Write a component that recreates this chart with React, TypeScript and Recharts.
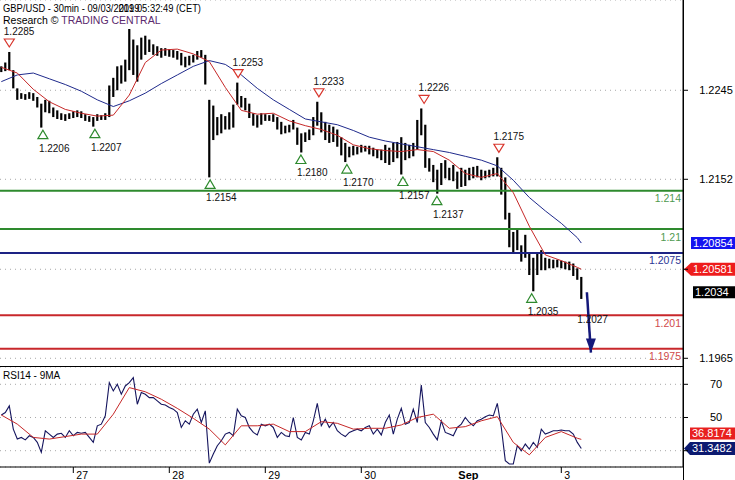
import React from 'react'
import {
  ComposedChart, Bar, Line, Scatter, XAxis, YAxis, CartesianGrid, ReferenceLine,
} from 'recharts'

// hourly slots, each one = two 30min candles (high / low)
const HOUR_HIGH = [
  1.2270, 1.2274, 1.2285, 1.2266, 1.2247, 1.2242, 1.2241, 1.2243, 1.2242, 1.2238,
  1.2231, 1.2235, 1.2234, 1.2227, 1.2224, 1.2221, 1.2220, 1.2221, 1.2223, 1.2224,
  1.2223, 1.2220, 1.2218, 1.2217, 1.2220, 1.2219, 1.2221, 1.2250, 1.2258, 1.2270,
  1.2271, 1.2277, 1.2309, 1.2298, 1.2292, 1.2300, 1.2302, 1.2298, 1.2293, 1.2291,
  1.2289, 1.2289, 1.2288, 1.2287, 1.2286, 1.2284, 1.2280, 1.2281, 1.2282, 1.2286,
  1.2287, 1.2282, 1.2235, 1.2229, 1.2217, 1.2220, 1.2218, 1.2222, 1.2230, 1.2253,
  1.2239, 1.2237, 1.2231, 1.2221, 1.2219, 1.2221, 1.2220, 1.2219, 1.2220, 1.2217,
  1.2212, 1.2208, 1.2209, 1.2214, 1.2206, 1.2200, 1.2201, 1.2204, 1.2217, 1.2233,
  1.2222, 1.2212, 1.2209, 1.2207, 1.2204, 1.2196, 1.2190, 1.2186, 1.2187, 1.2186,
  1.2188, 1.2187, 1.2187, 1.2185, 1.2183, 1.2183, 1.2188, 1.2185, 1.2190, 1.2191,
  1.2196, 1.2190, 1.2188, 1.2190, 1.2214, 1.2226, 1.2209, 1.2174, 1.2167, 1.2162,
  1.2169, 1.2172, 1.2164, 1.2167, 1.2160, 1.2164, 1.2162, 1.2164, 1.2165, 1.2166,
  1.2162, 1.2161, 1.2162, 1.2164, 1.2175, 1.2164, 1.2154, 1.2117, 1.2097, 1.2099,
  1.2083, 1.2094, 1.2076, 1.2070, 1.2076, 1.2078, 1.2070, 1.2069, 1.2068, 1.2068,
  1.2067, 1.2066, 1.2066, 1.2064, 1.2059, 1.2050,
]
const HOUR_LOW = [
  1.2264, 1.2265, 1.2266, 1.2247, 1.2235, 1.2236, 1.2235, 1.2236, 1.2234, 1.2227,
  1.2206, 1.2222, 1.2221, 1.2217, 1.2215, 1.2214, 1.2213, 1.2215, 1.2216, 1.2217,
  1.2216, 1.2213, 1.2212, 1.2207, 1.2213, 1.2214, 1.2214, 1.2217, 1.2238, 1.2245,
  1.2252, 1.2254, 1.2266, 1.2261, 1.2254, 1.2277, 1.2282, 1.2285, 1.2282, 1.2281,
  1.2279, 1.2281, 1.2280, 1.2279, 1.2277, 1.2271, 1.2269, 1.2271, 1.2274, 1.2277,
  1.2279, 1.2251, 1.2154, 1.2193, 1.2198, 1.2200, 1.2204, 1.2204, 1.2206, 1.2230,
  1.2227, 1.2224, 1.2216, 1.2208, 1.2206, 1.2209, 1.2213, 1.2213, 1.2212, 1.2204,
  1.2199, 1.2200, 1.2201, 1.2204, 1.2188, 1.2180, 1.2191, 1.2193, 1.2198, 1.2208,
  1.2201, 1.2193, 1.2190, 1.2191, 1.2186, 1.2177, 1.2170, 1.2175, 1.2177, 1.2178,
  1.2180, 1.2181, 1.2178, 1.2176, 1.2174, 1.2172, 1.2169, 1.2167, 1.2170, 1.2174,
  1.2157, 1.2172, 1.2174, 1.2176, 1.2183, 1.2198, 1.2164, 1.2160, 1.2149, 1.2137,
  1.2146, 1.2153, 1.2151, 1.2150, 1.2142, 1.2144, 1.2145, 1.2151, 1.2153, 1.2154,
  1.2151, 1.2153, 1.2154, 1.2155, 1.2155, 1.2136, 1.2110, 1.2081, 1.2076, 1.2078,
  1.2066, 1.2070, 1.2052, 1.2035, 1.2052, 1.2057, 1.2057, 1.2059, 1.2059, 1.2060,
  1.2059, 1.2058, 1.2057, 1.2051, 1.2047, 1.2027,
]
const LAST_CLOSE = 1.2034

// moving averages, read every 4 slots
const MA_STEP = 4
const RED_MA = [
  1.2269, 1.2263, 1.2246, 1.2233, 1.2225, 1.2221, 1.2218, 1.2219, 1.2240, 1.2274,
  1.2287, 1.2288, 1.2283, 1.2275, 1.2248, 1.2224, 1.2220, 1.2221, 1.2213, 1.2208,
  1.2204, 1.2198, 1.2188, 1.2184, 1.2182, 1.2181, 1.2183, 1.2181, 1.2172, 1.2158,
  1.2154, 1.2158, 1.2138, 1.2103, 1.2073, 1.2067, 1.2060,
]
const BLUE_MA = [
  1.2254, 1.2261, 1.2263, 1.2257, 1.2251, 1.2244, 1.2235, 1.2228, 1.2234, 1.2242,
  1.2252, 1.2261, 1.2270, 1.2276, 1.2272, 1.2261, 1.2247, 1.2235, 1.2225, 1.2215,
  1.2212, 1.2209, 1.2203, 1.2196, 1.2192, 1.2189, 1.2186, 1.2183, 1.2180, 1.2176,
  1.2172, 1.2166, 1.2151, 1.2133, 1.2119, 1.2106, 1.2091,
]
const RED_MA_LAST = 1.20581
const BLUE_MA_LAST = 1.20854

// RSI14 per slot and its 9MA every 4 slots
const RSI14 = [
  51.5, 53, 57, 43, 37, 38, 36.5, 39, 38, 35,
  29, 42, 40, 38, 40, 40.5, 38, 42, 39, 41,
  40.5, 41, 38, 35, 45, 46, 51, 71, 66, 70,
  64, 69, 71, 74, 58, 65, 64, 62, 62, 60,
  58, 57.5, 56, 55, 53, 44, 48, 46, 52, 55,
  47, 54, 22.5, 28, 33, 36, 40, 41, 39, 55,
  51, 50, 44, 41, 39.5, 46, 45, 46, 44, 38,
  41, 39, 38.5, 50, 38, 36.5, 41, 40, 48, 58.5,
  45, 49, 44, 47, 42, 40, 38.5, 41, 42, 43,
  42, 44, 45, 40, 43, 39.5, 47, 51.5, 40, 49,
  55.5, 46, 47, 55, 47, 69.5, 47, 44, 40, 36.5,
  48, 41, 40, 39, 44, 46, 50, 47, 45, 48,
  49, 50.5, 51.5, 51, 58.5, 44, 24, 22, 22, 33,
  30, 34, 31, 35, 32, 43, 40, 41, 42, 42,
  42.5, 42, 42, 40, 35, 31.3482,
]
const RSI_MA = [
  51.5, 46, 38, 37, 38.5, 40, 40, 52, 68, 65.5,
  61, 55.5, 49.5, 43, 33.5, 45, 45, 46, 41.5, 41.5,
  47.5, 46.5, 43, 43.5, 43.5, 45.5, 50, 52, 43.5, 44.5,
  48, 50.5, 35, 27.5, 38, 41.5, 37.5,
]
const RSI_LAST = 31.3482
const RSI_MA_LAST = 36.8174

// swing points (slot position, price)
const SWING_HIGH_POS = [2, 59.2, 79.4, 105.7, 124.4]
const SWING_HIGH_VAL = [1.2285, 1.2253, 1.2233, 1.2226, 1.2175]
const SWING_LOW_POS = [10.4, 23.4, 52.2, 74.9, 86.4, 100.4, 108.9, 132.6, 145]
const SWING_LOW_VAL = [1.2206, 1.2207, 1.2154, 1.2180, 1.2170, 1.2157, 1.2137, 1.2035, 1.2027]

// support / resistance levels
const LEVEL_VALS = [1.214, 1.21, 1.2075, 1.201, 1.1975]
const LEVEL_TEXT = ['1.214', '1.21', '1.2075', '1.201', '1.1975']

// projection arrow
const ARROW_POS = [146.4, 147.4]
const ARROW_VAL = [1.2034, 1.1971]

const PRICE_TICKS = [1.2245, 1.2152, 1.2058, 1.1965]
const RSI_TICKS = [70, 50, 30]
const DAY_POS = [18, 42, 66, 90, 113.5, 140]
const DAY_TEXT = ['27', '28', '29', '30', 'Sep', '3']

const W = 735
const MAIN_H = 367
const RSI_H = 113
const AXIS_W = 52
const X_MIN = -0.325
const X_MAX = 170.425
const P_MAX = 1.23393
const P_MIN = 1.19559
const R_MIN = 20.18
const R_MAX = 80.42

const FONT = '"Liberation Sans", Arial, sans-serif'
const GRID = '#a8a8a8'
const NAVY = '#1f2a8c'
const RED = '#c62828'
const GREEN = '#2e8a2e'
const LEVEL_COLORS = [GREEN, GREEN, '#1d2384', '#c8272b', '#c8272b']
const LEVEL_TEXT_COLORS = ['#4f9a4f', '#4f9a4f', '#2a3494', '#d04a4a', '#d04a4a']

const priceRows = HOUR_HIGH.map((h, i) => ({ i, range: [HOUR_LOW[i], h] }))
const redRows = [...RED_MA.map((v, k) => ({ i: k * MA_STEP, v })), { i: 145, v: RED_MA_LAST }]
const blueRows = [...BLUE_MA.map((v, k) => ({ i: k * MA_STEP, v })), { i: 145, v: BLUE_MA_LAST }]
const highMarks = SWING_HIGH_POS.map((i, k) => ({ i, v: SWING_HIGH_VAL[k] }))
const lowMarks = SWING_LOW_POS.map((i, k) => ({ i, v: SWING_LOW_VAL[k], hidden: k === SWING_LOW_POS.length - 1 }))
const arrowRows = ARROW_POS.map((i, k) => ({ i, v: ARROW_VAL[k] }))
const rsiRows = RSI14.map((v, i) => ({ i, v }))
const rsiMaRows = [...RSI_MA.map((v, k) => ({ i: k * MA_STEP, v })), { i: 145, v: RSI_MA_LAST }]

function PriceTick(props: any) {
  const { x, y, payload } = props
  if (payload.value === 1.2058) return <g />
  return (
    <text x={x + 28} y={y + 4} textAnchor="middle" fontSize={11} fontFamily={FONT} fill="#000">
      {payload.value.toFixed(4)}
    </text>
  )
}

function RsiTick(props: any) {
  const { x, y, payload } = props
  if (payload.value === 30) return <g />
  return (
    <text x={x + 28} y={y + 4} textAnchor="middle" fontSize={11} fontFamily={FONT} fill="#000">
      {payload.value}
    </text>
  )
}

function DayTick(props: any) {
  const { x, y, payload } = props
  const label = DAY_TEXT[DAY_POS.indexOf(payload.value)]
  const bold = label === 'Sep'
  return (
    <g>
      {!bold && <line x1={x} x2={x} y1={y} y2={y + 6} stroke="#000" />}
      <text x={x + 3} y={y + 11.5} fontSize={bold ? 11 : 10.5} fontWeight={bold ? 'bold' : 'normal'}
        fontFamily={FONT} fill="#000">{label}</text>
    </g>
  )
}

function vbOf(p: any) {
  return p.viewBox || { x: p.x, y: p.y, width: p.width, height: p.height }
}

function LevelLabel({ p, text, color }: any) {
  const vb = vbOf(p)
  return (
    <text x={vb.x + vb.width - 2} y={vb.y + 11.5} textAnchor="end" fontSize={10.5} fontFamily={FONT} fill={color}>
      {text}
    </text>
  )
}

// value tag on the right axis
function Badge({ p, text, bg, arrow, dy = 0, left = 691 }: any) {
  const vb = vbOf(p)
  const y = vb.y + dy
  const edge = vb.x + vb.width
  const shape = arrow
    ? `${edge + 1},${y} ${left},${y - 6.5} ${W},${y - 6.5} ${W},${y + 6.5} ${left},${y + 6.5}`
    : `${left},${y - 6} ${W},${y - 6} ${W},${y + 6} ${left},${y + 6}`
  return (
    <g>
      <polygon points={shape} fill={bg} />
      <text x={left + 2} y={y + 4} fontSize={11} fontFamily={FONT} fill="#fff">{text}</text>
    </g>
  )
}

// one hourly high-low stroke, fixed width around the slot centre
function HourBar(props: any) {
  const { x, y, width, height } = props
  const top = Math.min(y, y + height)
  const h = Math.max(Math.abs(height), 1)
  return <rect x={x + width / 2 - 1.1} y={top} width={2.2} height={h} fill="#000" />
}

function HighMark(props: any) {
  const { cx, cy, payload } = props
  return (
    <g>
      <polygon points={`${cx - 5},${cy - 13} ${cx + 5},${cy - 13} ${cx},${cy - 5}`}
        fill="#fff" stroke="#d8342b" strokeWidth={1.2} />
      <text x={cx - 5.5} y={cy - 17} fontSize={10} fontFamily={FONT} fill="#111">{payload.v.toFixed(4)}</text>
    </g>
  )
}

function LowMark(props: any) {
  const { cx, cy, payload } = props
  return (
    <g>
      {!payload.hidden && (
        <polygon points={`${cx - 5},${cy + 11} ${cx + 5},${cy + 11} ${cx},${cy + 2.5}`}
          fill="#fff" stroke={GREEN} strokeWidth={1.2} />
      )}
      <text x={cx - 4} y={cy + 24} fontSize={10} fontFamily={FONT} fill="#111">{payload.v.toFixed(4)}</text>
    </g>
  )
}

function ArrowHead(props: any) {
  const { cx, cy, index } = props
  if (index !== ARROW_POS.length - 1) return <g key={`a${index}`} />
  return <polygon key="head" points={`${cx - 5},${cy - 14} ${cx + 5},${cy - 14} ${cx},${cy}`} fill="#14187a" />
}

export default function App() {
  return (
    <div style={{ position: 'absolute', left: 0, top: 0, width: W, height: 480, background: '#fff' }}>
      <ComposedChart width={W} height={MAIN_H} data={priceRows} margin={{ top: 0, right: 0, bottom: 0, left: 0 }}>
        <CartesianGrid vertical={false} stroke={GRID} strokeDasharray="1 4" />
        <XAxis type="number" dataKey="i" domain={[X_MIN, X_MAX]} hide allowDataOverflow />
        <YAxis orientation="right" type="number" domain={[P_MIN, P_MAX]} ticks={PRICE_TICKS} interval={0}
          width={AXIS_W} allowDataOverflow axisLine={{ stroke: '#000' }} tickLine={{ stroke: '#000' }}
          tickSize={5} tickMargin={0} tick={<PriceTick />} />
        {LEVEL_VALS.map((v, k) => (
          <ReferenceLine key={v} y={v} stroke={LEVEL_COLORS[k]} strokeWidth={2}
            label={(p: any) => <LevelLabel p={p} text={LEVEL_TEXT[k]} color={LEVEL_TEXT_COLORS[k]} />} />
        ))}
        <Bar dataKey="range" barSize={3} fill="#000" shape={HourBar} isAnimationActive={false} />
        <Line data={blueRows} dataKey="v" stroke={NAVY} strokeWidth={1} dot={false} activeDot={false} isAnimationActive={false} />
        <Line data={redRows} dataKey="v" stroke={RED} strokeWidth={1} dot={false} activeDot={false} isAnimationActive={false} />
        <Scatter data={highMarks} dataKey="v" shape={HighMark} isAnimationActive={false} />
        <Scatter data={lowMarks} dataKey="v" shape={LowMark} isAnimationActive={false} />
        <Line data={arrowRows} dataKey="v" stroke="#14187a" strokeWidth={2.5} dot={ArrowHead} activeDot={false} isAnimationActive={false} />
        <ReferenceLine y={BLUE_MA_LAST} stroke="none" label={(p: any) => <Badge p={p} text="1.20854" bg="#1414f0" />} />
        <ReferenceLine y={RED_MA_LAST} stroke="none" label={(p: any) => <Badge p={p} text="1.20581" bg="#ee1c1c" arrow />} />
        <ReferenceLine y={LAST_CLOSE} stroke="none" label={(p: any) => <Badge p={p} text="1.2034" bg="#000" left={693} />} />
      </ComposedChart>

      <ComposedChart width={W} height={RSI_H} data={rsiRows} margin={{ top: 0, right: 0, bottom: 0, left: 0 }}>
        <CartesianGrid vertical={false} stroke={GRID} strokeDasharray="1 4" />
        <XAxis type="number" dataKey="i" domain={[X_MIN, X_MAX]} ticks={DAY_POS} interval={0} allowDataOverflow
          height={13} axisLine={{ stroke: '#000' }} tickLine={false} tickSize={0} tickMargin={0} tick={<DayTick />} />
        <YAxis orientation="right" type="number" domain={[R_MIN, R_MAX]} ticks={RSI_TICKS} interval={0}
          width={AXIS_W} allowDataOverflow axisLine={{ stroke: '#000' }} tickLine={{ stroke: '#000' }}
          tickSize={5} tickMargin={0} tick={<RsiTick />} />
        <Line dataKey="v" stroke="#15155e" strokeWidth={1.1} dot={false} activeDot={false} isAnimationActive={false} />
        <Line data={rsiMaRows} dataKey="v" stroke={RED} strokeWidth={1} dot={false} activeDot={false} isAnimationActive={false} />
        <ReferenceLine y={RSI_MA_LAST} stroke="none" label={(p: any) => <Badge p={p} text="36.8174" bg="#e8201f" dy={-6} left={690} />} />
        <ReferenceLine y={RSI_LAST} stroke="none" label={(p: any) => <Badge p={p} text="31.3482" bg="#0c1a70" arrow left={690} />} />
      </ComposedChart>

      <svg width={W} height={480} style={{ position: 'absolute', left: 0, top: 0, pointerEvents: 'none' }}>
        <text x={3} y={11.5} fontSize={10.5} fontFamily={FONT} fill="#000" textLength={198} lengthAdjust="spacingAndGlyphs">
          GBP/USD - 30min - 09/03/2019 05:32:49 (CET)
        </text>
        <text x={118.5} y={11.5} fontSize={10.5} fontFamily={FONT} fill="#000" textLength={21} lengthAdjust="spacingAndGlyphs">
          2019
        </text>
        <text x={3} y={24} fontSize={10.5} fontFamily={FONT} fill="#000">
          Research © <tspan fill="#5b2a6e">TRADING CENTRAL</tspan>
        </text>
        <text x={3} y={378.5} fontSize={10} fontFamily={FONT} fill="#000">RSI14 - 9MA</text>
        <line x1={0} x2={684} y1={366.5} y2={366.5} stroke="#000" />
        <line x1={683.5} x2={683.5} y1={0} y2={480} stroke="#000" />
      </svg>
    </div>
  )
}
